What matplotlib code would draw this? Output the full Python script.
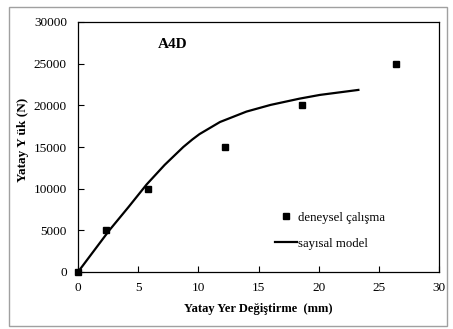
import matplotlib.pyplot as plt
from matplotlib.patches import Rectangle

# deneysel (experimental) points
exp_x = [0, 2.3, 5.8, 12.2, 18.6, 26.4]
exp_y = [0, 5000, 10000, 15000, 20000, 25000]

# sayisal model curve
mod_x = [0, 2.6, 4.2, 5.7, 7.2, 8.75, 9.5, 10.1, 11.8, 14.0, 16.0, 18.4, 20.1, 23.3]
mod_y = [0, 5000, 7800, 10500, 12850, 15000, 15900, 16550, 18000, 19250, 20050, 20800, 21250, 21850]

plt.rcParams['font.family'] = ['Liberation Serif', 'DejaVu Serif']

fig = plt.figure(figsize=(4.53, 3.29), dpi=100)
ax = fig.add_axes([78/453, 1-272/329, 361/453, 250/329])

# outer frame
fig.patches.append(Rectangle((9/453, 3/329), 438/453, 319/329, transform=fig.transFigure,
                             fill=False, edgecolor='#a0a0a0', linewidth=1.0))

ax.plot(mod_x, mod_y, color='black', linewidth=1.6, label='sayısal model')
ax.plot(exp_x, exp_y, linestyle='none', marker='s', markersize=4.5, color='black',
        label='deneysel çalışma', clip_on=False, zorder=3)

ax.set_xlim(0, 30)
ax.set_ylim(0, 30000)
ax.set_xticks(range(0, 31, 5))
ax.set_yticks(range(0, 30001, 5000))
ax.tick_params(direction='in', length=4, width=0.8, labelsize=9.5)
ax.tick_params(axis='x', pad=7)
ax.tick_params(axis='y', pad=8)
for s in ax.spines.values():
    s.set_linewidth(0.9)

ax.set_xlabel('Yatay Yer Değiştirme  (mm)', fontsize=9, fontweight='bold', labelpad=7)
ax.set_ylabel('Yatay Y ük (N)', fontsize=9.5, fontweight='bold')
ax.yaxis.set_label_coords(-0.135, 0.53)

ax.text(0.22, 0.895, 'A4D', transform=ax.transAxes, fontsize=11, fontweight='bold')

h, l = ax.get_legend_handles_labels()
ax.legend(h[::-1], l[::-1], loc='center left', bbox_to_anchor=(0.515, 0.165), frameon=False,
          fontsize=9.2, handlelength=1.7, handletextpad=0.05, labelspacing=1.1, numpoints=1)

fig.savefig('out.png', dpi=100)
